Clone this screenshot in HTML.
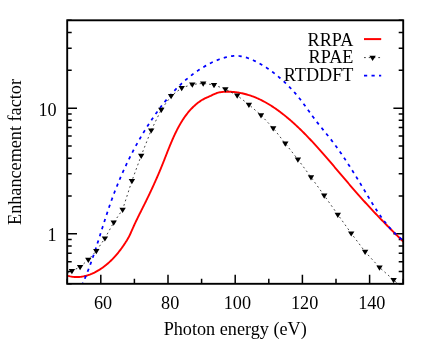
<!DOCTYPE html>
<html><head><meta charset="utf-8"><title>Enhancement factor</title>
<style>html,body{margin:0;padding:0;background:#fff}body{width:436px;height:342px;overflow:hidden;font-family:"Liberation Serif",serif}</style></head>
<body>
<svg width="436" height="342" viewBox="0 0 436 342" style="display:block">
<rect width="436" height="342" fill="#fff"/>
<defs><clipPath id="c"><rect x="67.20" y="20.30" width="336.00" height="263.50"/></clipPath></defs>
<path d="M67.20 283.80V278.80M100.80 283.80V274.80M134.40 283.80V278.80M168.00 283.80V274.80M201.60 283.80V278.80M235.20 283.80V274.80M268.80 283.80V278.80M302.40 283.80V274.80M336.00 283.80V278.80M369.60 283.80V274.80M403.20 283.80V278.80M67.20 283.80H71.70M403.20 283.80H398.70M67.20 271.62H71.70M403.20 271.62H398.70M67.20 261.67H71.70M403.20 261.67H398.70M67.20 253.26H71.70M403.20 253.26H398.70M67.20 245.97H71.70M403.20 245.97H398.70M67.20 239.54H71.70M403.20 239.54H398.70M67.20 233.79H77.00M403.20 233.79H393.40M67.20 195.97H71.70M403.20 195.97H398.70M67.20 173.84H71.70M403.20 173.84H398.70M67.20 158.14H71.70M403.20 158.14H398.70M67.20 145.96H71.70M403.20 145.96H398.70M67.20 136.01H71.70M403.20 136.01H398.70M67.20 127.60H71.70M403.20 127.60H398.70M67.20 120.31H71.70M403.20 120.31H398.70M67.20 113.88H71.70M403.20 113.88H398.70M67.20 108.13H77.00M403.20 108.13H393.40M67.20 70.31H71.70M403.20 70.31H398.70M67.20 48.18H71.70M403.20 48.18H398.70M67.20 32.48H71.70M403.20 32.48H398.70M67.20 20.30H71.70M403.20 20.30H398.70" stroke="#000" stroke-width="1.5" fill="none"/>
<g clip-path="url(#c)">
<path d="M67.16 275.64 L68.18 275.93 L69.21 276.18 L70.23 276.41 L71.25 276.59 L72.26 276.75 L73.28 276.87 L74.28 276.96 L75.29 277.01 L76.29 277.04 L77.29 277.04 L78.28 277.01 L79.27 276.94 L80.26 276.85 L81.24 276.74 L82.22 276.59 L83.19 276.42 L84.15 276.23 L85.11 276.01 L86.07 275.77 L87.02 275.50 L87.96 275.21 L88.90 274.89 L89.83 274.56 L90.75 274.20 L91.67 273.83 L92.58 273.43 L93.48 273.02 L94.38 272.59 L95.27 272.14 L96.15 271.67 L97.02 271.19 L97.89 270.69 L98.75 270.18 L99.59 269.65 L100.44 269.11 L101.27 268.55 L102.09 267.98 L102.90 267.40 L103.71 266.81 L104.51 266.21 L105.30 265.59 L106.08 264.96 L106.85 264.32 L107.61 263.67 L108.37 263.01 L109.12 262.34 L109.86 261.66 L110.59 260.97 L111.31 260.27 L112.02 259.56 L112.73 258.84 L113.43 258.11 L114.12 257.37 L114.80 256.63 L115.48 255.87 L116.14 255.11 L116.80 254.34 L117.45 253.57 L118.09 252.79 L118.73 252.00 L119.36 251.20 L119.98 250.40 L120.59 249.59 L121.19 248.78 L121.79 247.96 L122.38 247.14 L122.96 246.31 L123.54 245.48 L124.10 244.64 L124.66 243.80 L125.22 242.96 L125.76 242.11 L126.30 241.26 L126.83 240.41 L127.34 239.55 L127.84 238.69 L128.33 237.83 L128.80 236.97 L129.25 236.10 L129.68 235.23 L130.10 234.35 L130.50 233.48 L130.90 232.60 L131.28 231.72 L131.67 230.84 L132.06 229.96 L132.45 229.07 L132.84 228.18 L133.24 227.29 L133.64 226.40 L134.04 225.51 L134.45 224.61 L134.86 223.72 L135.28 222.82 L135.71 221.92 L136.14 221.02 L136.57 220.12 L137.00 219.22 L137.44 218.32 L137.89 217.41 L138.33 216.51 L138.78 215.60 L139.23 214.69 L139.68 213.79 L140.14 212.88 L140.59 211.97 L141.05 211.06 L141.50 210.16 L141.96 209.25 L142.42 208.34 L142.87 207.43 L143.33 206.52 L143.79 205.61 L144.24 204.70 L144.69 203.80 L145.14 202.89 L145.59 201.98 L146.03 201.08 L146.48 200.17 L146.92 199.26 L147.36 198.36 L147.80 197.45 L148.24 196.55 L148.67 195.64 L149.11 194.74 L149.54 193.83 L149.97 192.93 L150.40 192.02 L150.82 191.11 L151.25 190.21 L151.67 189.30 L152.09 188.40 L152.51 187.49 L152.92 186.59 L153.34 185.68 L153.75 184.77 L154.16 183.87 L154.57 182.96 L154.98 182.05 L155.38 181.14 L155.79 180.23 L156.19 179.32 L156.59 178.41 L156.99 177.50 L157.38 176.59 L157.78 175.68 L158.17 174.77 L158.56 173.86 L158.95 172.94 L159.34 172.03 L159.72 171.11 L160.11 170.20 L160.49 169.28 L160.87 168.36 L161.25 167.44 L161.62 166.52 L162.00 165.60 L162.37 164.68 L162.74 163.75 L163.11 162.83 L163.47 161.91 L163.84 160.98 L164.21 160.05 L164.57 159.13 L164.93 158.20 L165.30 157.27 L165.66 156.34 L166.02 155.41 L166.39 154.48 L166.75 153.55 L167.12 152.62 L167.48 151.69 L167.85 150.76 L168.22 149.84 L168.59 148.91 L168.96 147.98 L169.34 147.05 L169.71 146.13 L170.09 145.20 L170.47 144.27 L170.86 143.35 L171.25 142.43 L171.64 141.51 L172.03 140.59 L172.43 139.67 L172.83 138.75 L173.24 137.83 L173.65 136.92 L174.07 136.00 L174.49 135.09 L174.92 134.18 L175.35 133.28 L175.79 132.37 L176.23 131.47 L176.68 130.57 L177.13 129.67 L177.60 128.78 L178.06 127.89 L178.54 127.00 L179.02 126.11 L179.51 125.23 L180.01 124.36 L180.52 123.49 L181.03 122.62 L181.55 121.76 L182.08 120.91 L182.62 120.06 L183.17 119.22 L183.72 118.38 L184.29 117.55 L184.86 116.73 L185.45 115.91 L186.05 115.11 L186.65 114.31 L187.27 113.52 L187.89 112.73 L188.53 111.96 L189.18 111.19 L189.84 110.43 L190.51 109.69 L191.19 108.95 L191.89 108.22 L192.60 107.50 L193.31 106.80 L194.04 106.11 L194.79 105.43 L195.54 104.76 L196.30 104.11 L197.08 103.48 L197.86 102.86 L198.66 102.26 L199.46 101.68 L200.27 101.11 L201.10 100.57 L201.93 100.05 L202.77 99.55 L203.62 99.08 L204.48 98.63 L205.35 98.20 L206.22 97.80 L207.11 97.41 L208.00 97.03 L208.89 96.65 L209.80 96.24 L210.71 95.82 L211.63 95.37 L212.55 94.92 L213.48 94.48 L214.42 94.05 L215.36 93.64 L216.31 93.26 L217.26 92.94 L218.22 92.66 L219.18 92.42 L220.15 92.23 L221.12 92.07 L222.09 91.95 L223.07 91.86 L224.05 91.79 L225.04 91.74 L226.03 91.71 L227.02 91.69 L228.01 91.69 L229.01 91.71 L230.00 91.74 L231.00 91.79 L232.00 91.85 L233.00 91.93 L234.00 92.02 L235.00 92.13 L236.00 92.25 L237.00 92.39 L238.00 92.54 L239.00 92.70 L239.99 92.88 L240.99 93.08 L241.98 93.28 L242.97 93.50 L243.95 93.73 L244.93 93.98 L245.91 94.24 L246.89 94.51 L247.86 94.79 L248.82 95.09 L249.78 95.39 L250.74 95.71 L251.69 96.04 L252.63 96.38 L253.57 96.73 L254.50 97.10 L255.43 97.47 L256.35 97.86 L257.27 98.25 L258.18 98.66 L259.09 99.07 L259.99 99.50 L260.89 99.93 L261.78 100.37 L262.67 100.83 L263.55 101.29 L264.43 101.76 L265.30 102.24 L266.17 102.72 L267.03 103.22 L267.89 103.72 L268.75 104.23 L269.60 104.75 L270.45 105.27 L271.29 105.81 L272.13 106.35 L272.96 106.89 L273.79 107.44 L274.62 108.00 L275.44 108.57 L276.26 109.14 L277.07 109.71 L277.88 110.30 L278.69 110.88 L279.49 111.48 L280.29 112.07 L281.08 112.67 L281.88 113.28 L282.67 113.89 L283.45 114.51 L284.23 115.13 L285.01 115.75 L285.79 116.38 L286.56 117.01 L287.33 117.65 L288.09 118.29 L288.86 118.93 L289.62 119.58 L290.37 120.23 L291.13 120.89 L291.88 121.55 L292.62 122.21 L293.37 122.88 L294.11 123.55 L294.85 124.22 L295.59 124.90 L296.32 125.58 L297.05 126.26 L297.78 126.95 L298.50 127.63 L299.23 128.33 L299.95 129.02 L300.67 129.72 L301.38 130.42 L302.09 131.12 L302.81 131.83 L303.51 132.54 L304.22 133.25 L304.92 133.96 L305.63 134.68 L306.33 135.39 L307.02 136.11 L307.72 136.84 L308.41 137.56 L309.10 138.29 L309.79 139.01 L310.48 139.74 L311.17 140.48 L311.85 141.21 L312.54 141.94 L313.22 142.68 L313.89 143.42 L314.57 144.16 L315.25 144.90 L315.92 145.64 L316.60 146.38 L317.27 147.13 L317.94 147.87 L318.60 148.62 L319.27 149.37 L319.94 150.12 L320.60 150.87 L321.27 151.62 L321.93 152.37 L322.59 153.12 L323.25 153.87 L323.91 154.63 L324.56 155.38 L325.22 156.13 L325.88 156.89 L326.53 157.65 L327.19 158.40 L327.84 159.16 L328.49 159.92 L329.14 160.67 L329.79 161.43 L330.45 162.19 L331.10 162.95 L331.74 163.71 L332.39 164.47 L333.04 165.23 L333.69 165.99 L334.34 166.75 L334.98 167.52 L335.63 168.28 L336.28 169.04 L336.92 169.80 L337.57 170.56 L338.22 171.32 L338.86 172.09 L339.51 172.85 L340.15 173.61 L340.80 174.37 L341.44 175.13 L342.09 175.90 L342.74 176.66 L343.38 177.42 L344.03 178.18 L344.68 178.94 L345.32 179.70 L345.97 180.46 L346.62 181.22 L347.27 181.98 L347.92 182.74 L348.57 183.50 L349.21 184.26 L349.87 185.01 L350.52 185.77 L351.17 186.53 L351.82 187.28 L352.47 188.04 L353.13 188.80 L353.78 189.55 L354.44 190.30 L355.10 191.06 L355.75 191.81 L356.41 192.56 L357.07 193.31 L357.73 194.06 L358.39 194.81 L359.06 195.56 L359.72 196.30 L360.39 197.05 L361.05 197.79 L361.72 198.54 L362.39 199.28 L363.05 200.03 L363.72 200.77 L364.39 201.51 L365.07 202.25 L365.74 202.99 L366.41 203.73 L367.09 204.47 L367.76 205.20 L368.44 205.94 L369.12 206.68 L369.80 207.41 L370.48 208.15 L371.16 208.88 L371.84 209.61 L372.52 210.34 L373.20 211.07 L373.89 211.80 L374.57 212.53 L375.26 213.26 L375.94 213.99 L376.63 214.71 L377.32 215.44 L378.01 216.16 L378.70 216.89 L379.39 217.61 L380.08 218.33 L380.78 219.05 L381.47 219.77 L382.17 220.49 L382.86 221.21 L383.56 221.93 L384.26 222.65 L384.96 223.36 L385.66 224.08 L386.36 224.79 L387.06 225.51 L387.76 226.22 L388.46 226.93 L389.17 227.64 L389.87 228.35 L390.58 229.06 L391.28 229.77 L391.99 230.47 L392.70 231.18 L393.41 231.89 L394.11 232.59 L394.83 233.29 L395.54 234.00 L396.25 234.70 L396.96 235.40 L397.67 236.10 L398.39 236.80 L399.10 237.50 L399.82 238.19 L400.54 238.89 L401.25 239.59 L401.97 240.28 L402.69 240.97 L403.41 241.67 L404.13 242.36 L404.85 243.05" stroke="#f00" stroke-width="1.9" fill="none" stroke-linejoin="round"/>
<path d="M63.00 275.50 L71.90 271.00 L80.10 266.90 L88.30 259.70 L96.30 251.00 L104.90 238.30 L113.70 222.50 L122.60 209.60 L131.90 180.90 L141.20 155.60 L151.20 130.30 L161.30 109.60 L171.10 96.00 L181.70 87.90 L192.30 84.40 L203.20 83.40 L214.00 84.90 L225.40 89.20 L237.20 95.50 L248.90 104.60 L261.00 115.20 L273.20 128.10 L285.30 143.50 L297.90 159.40 L311.00 177.10 L324.20 195.50 L337.80 214.60 L351.20 233.30 L365.10 251.70 L379.50 267.40 L393.60 280.00 L408.00 292.50" stroke="#000" stroke-width="0.75" stroke-dasharray="1.8 2.95" fill="none"/>
<path d="M81.80 285.64 L82.21 284.71 L82.63 283.78 L83.03 282.85 L83.44 281.92 L83.84 280.99 L84.23 280.06 L84.62 279.12 L85.01 278.19 L85.40 277.25 L85.78 276.32 L86.16 275.38 L86.53 274.44 L86.90 273.51 L87.27 272.57 L87.63 271.63 L88.00 270.69 L88.36 269.75 L88.71 268.81 L89.06 267.87 L89.42 266.93 L89.76 265.98 L90.11 265.04 L90.45 264.10 L90.79 263.16 L91.13 262.21 L91.46 261.27 L91.80 260.32 L92.13 259.38 L92.46 258.43 L92.78 257.49 L93.11 256.54 L93.43 255.60 L93.75 254.65 L94.07 253.70 L94.39 252.76 L94.71 251.81 L95.02 250.86 L95.33 249.91 L95.65 248.97 L95.96 248.02 L96.27 247.07 L96.57 246.12 L96.88 245.17 L97.19 244.22 L97.49 243.27 L97.79 242.32 L98.10 241.38 L98.40 240.43 L98.70 239.48 L99.00 238.53 L99.30 237.58 L99.60 236.63 L99.90 235.68 L100.20 234.73 L100.50 233.78 L100.80 232.83 L101.10 231.88 L101.40 230.93 L101.70 229.98 L102.00 229.03 L102.30 228.08 L102.60 227.14 L102.90 226.19 L103.20 225.24 L103.50 224.29 L103.80 223.34 L104.10 222.39 L104.40 221.44 L104.71 220.50 L105.01 219.55 L105.32 218.60 L105.62 217.66 L105.93 216.71 L106.24 215.76 L106.55 214.82 L106.86 213.87 L107.17 212.93 L107.48 211.98 L107.80 211.04 L108.11 210.09 L108.43 209.15 L108.75 208.20 L109.07 207.26 L109.40 206.32 L109.72 205.38 L110.05 204.44 L110.38 203.49 L110.71 202.55 L111.04 201.61 L111.38 200.67 L111.72 199.74 L112.06 198.80 L112.40 197.86 L112.75 196.92 L113.09 195.99 L113.44 195.05 L113.80 194.11 L114.15 193.18 L114.51 192.25 L114.87 191.31 L115.23 190.38 L115.59 189.45 L115.96 188.52 L116.33 187.59 L116.70 186.66 L117.07 185.73 L117.45 184.80 L117.82 183.87 L118.20 182.94 L118.59 182.02 L118.97 181.09 L119.36 180.17 L119.75 179.25 L120.14 178.32 L120.53 177.40 L120.93 176.48 L121.33 175.56 L121.73 174.64 L122.13 173.73 L122.54 172.81 L122.95 171.89 L123.36 170.98 L123.77 170.07 L124.19 169.15 L124.61 168.24 L125.03 167.33 L125.45 166.42 L125.88 165.51 L126.30 164.61 L126.73 163.70 L127.17 162.79 L127.60 161.89 L128.04 160.99 L128.48 160.09 L128.92 159.19 L129.37 158.29 L129.81 157.39 L130.26 156.49 L130.71 155.60 L131.17 154.70 L131.63 153.81 L132.09 152.92 L132.55 152.03 L133.01 151.14 L133.48 150.25 L133.95 149.36 L134.42 148.48 L134.89 147.60 L135.37 146.71 L135.85 145.83 L136.33 144.95 L136.82 144.08 L137.30 143.20 L137.79 142.33 L138.29 141.45 L138.78 140.58 L139.28 139.71 L139.78 138.84 L140.28 137.97 L140.78 137.11 L141.29 136.24 L141.80 135.38 L142.31 134.52 L142.83 133.66 L143.34 132.80 L143.86 131.95 L144.38 131.09 L144.91 130.24 L145.44 129.39 L145.97 128.54 L146.50 127.69 L147.03 126.85 L147.57 126.00 L148.11 125.16 L148.66 124.32 L149.20 123.48 L149.75 122.64 L150.30 121.81 L150.85 120.98 L151.41 120.14 L151.97 119.31 L152.53 118.49 L153.09 117.66 L153.66 116.84 L154.23 116.01 L154.80 115.20 L155.37 114.38 L155.95 113.56 L156.53 112.75 L157.11 111.94 L157.70 111.13 L158.28 110.32 L158.88 109.52 L159.47 108.72 L160.07 107.92 L160.67 107.12 L161.27 106.33 L161.88 105.53 L162.49 104.75 L163.10 103.96 L163.72 103.18 L164.34 102.40 L164.96 101.62 L165.59 100.85 L166.22 100.08 L166.86 99.32 L167.49 98.55 L168.14 97.79 L168.78 97.04 L169.43 96.28 L170.08 95.53 L170.74 94.79 L171.40 94.05 L172.07 93.31 L172.74 92.58 L173.41 91.85 L174.08 91.12 L174.77 90.40 L175.45 89.68 L176.14 88.97 L176.83 88.26 L177.53 87.55 L178.23 86.85 L178.94 86.16 L179.65 85.47 L180.37 84.78 L181.09 84.10 L181.81 83.42 L182.54 82.75 L183.28 82.08 L184.02 81.42 L184.76 80.76 L185.51 80.11 L186.26 79.46 L187.02 78.82 L187.79 78.18 L188.55 77.55 L189.33 76.92 L190.11 76.30 L190.89 75.69 L191.68 75.08 L192.47 74.47 L193.27 73.87 L194.08 73.28 L194.89 72.69 L195.71 72.11 L196.53 71.54 L197.35 70.97 L198.19 70.40 L199.02 69.85 L199.87 69.30 L200.72 68.75 L201.57 68.22 L202.43 67.68 L203.30 67.16 L204.17 66.64 L205.05 66.13 L205.94 65.62 L206.83 65.13 L207.72 64.64 L208.63 64.15 L209.53 63.68 L210.44 63.21 L211.36 62.76 L212.28 62.31 L213.21 61.87 L214.14 61.45 L215.07 61.03 L216.01 60.63 L216.95 60.24 L217.90 59.86 L218.84 59.49 L219.79 59.14 L220.75 58.80 L221.70 58.48 L222.66 58.16 L223.62 57.87 L224.58 57.59 L225.55 57.33 L226.51 57.08 L227.48 56.85 L228.45 56.64 L229.41 56.45 L230.38 56.28 L231.35 56.13 L232.32 56.01 L233.29 55.92 L234.26 55.86 L235.23 55.82 L236.19 55.82 L237.16 55.85 L238.12 55.91 L239.09 56.00 L240.05 56.12 L241.01 56.27 L241.97 56.44 L242.93 56.64 L243.88 56.87 L244.83 57.12 L245.78 57.39 L246.73 57.68 L247.67 58.00 L248.61 58.33 L249.54 58.68 L250.47 59.05 L251.40 59.43 L252.32 59.83 L253.24 60.24 L254.15 60.67 L255.06 61.10 L255.96 61.55 L256.86 62.01 L257.75 62.47 L258.64 62.95 L259.52 63.43 L260.40 63.92 L261.27 64.43 L262.14 64.94 L263.00 65.46 L263.86 65.98 L264.71 66.52 L265.55 67.06 L266.40 67.61 L267.23 68.17 L268.06 68.74 L268.89 69.31 L269.71 69.89 L270.52 70.48 L271.34 71.07 L272.14 71.67 L272.94 72.28 L273.74 72.89 L274.53 73.51 L275.31 74.13 L276.09 74.76 L276.87 75.39 L277.64 76.03 L278.41 76.67 L279.17 77.32 L279.92 77.97 L280.68 78.63 L281.42 79.29 L282.16 79.95 L282.90 80.62 L283.63 81.29 L284.36 81.97 L285.08 82.65 L285.80 83.33 L286.51 84.02 L287.22 84.71 L287.92 85.41 L288.62 86.11 L289.32 86.81 L290.00 87.52 L290.69 88.24 L291.37 88.96 L292.04 89.68 L292.71 90.41 L293.38 91.14 L294.04 91.88 L294.70 92.63 L295.35 93.38 L295.99 94.13 L296.64 94.89 L297.28 95.66 L297.91 96.43 L298.54 97.21 L299.16 97.99 L299.78 98.78 L300.40 99.58 L301.01 100.37 L301.62 101.18 L302.23 101.98 L302.84 102.79 L303.44 103.60 L304.04 104.42 L304.64 105.23 L305.23 106.05 L305.83 106.87 L306.42 107.70 L307.01 108.52 L307.61 109.34 L308.20 110.17 L308.79 110.99 L309.38 111.82 L309.97 112.64 L310.56 113.46 L311.16 114.28 L311.75 115.10 L312.34 115.92 L312.94 116.73 L313.54 117.55 L314.14 118.36 L314.74 119.16 L315.34 119.96 L315.95 120.76 L316.56 121.56 L317.17 122.35 L317.79 123.13 L318.41 123.91 L319.03 124.69 L319.65 125.47 L320.27 126.25 L320.89 127.02 L321.52 127.79 L322.14 128.56 L322.77 129.33 L323.39 130.10 L324.02 130.86 L324.64 131.63 L325.27 132.40 L325.89 133.16 L326.52 133.93 L327.14 134.70 L327.76 135.47 L328.37 136.24 L328.99 137.01 L329.60 137.79 L330.22 138.57 L330.82 139.35 L331.43 140.13 L332.03 140.92 L332.63 141.71 L333.23 142.50 L333.83 143.29 L334.42 144.09 L335.01 144.89 L335.60 145.69 L336.19 146.49 L336.77 147.30 L337.35 148.11 L337.93 148.92 L338.51 149.73 L339.08 150.54 L339.66 151.36 L340.23 152.17 L340.80 152.99 L341.36 153.82 L341.93 154.64 L342.49 155.46 L343.05 156.29 L343.61 157.12 L344.17 157.95 L344.72 158.78 L345.28 159.62 L345.83 160.45 L346.38 161.29 L346.93 162.12 L347.48 162.96 L348.02 163.80 L348.57 164.65 L349.11 165.49 L349.65 166.33 L350.19 167.18 L350.73 168.02 L351.27 168.87 L351.80 169.72 L352.34 170.57 L352.87 171.42 L353.40 172.27 L353.94 173.12 L354.47 173.98 L354.99 174.83 L355.52 175.68 L356.05 176.54 L356.58 177.39 L357.10 178.25 L357.63 179.11 L358.15 179.96 L358.67 180.82 L359.19 181.68 L359.71 182.54 L360.23 183.40 L360.75 184.25 L361.27 185.11 L361.79 185.97 L362.31 186.83 L362.83 187.69 L363.34 188.55 L363.86 189.41 L364.38 190.27 L364.89 191.13 L365.41 191.99 L365.92 192.85 L366.44 193.70 L366.95 194.56 L367.47 195.42 L367.98 196.28 L368.50 197.13 L369.01 197.99 L369.53 198.85 L370.04 199.70 L370.56 200.55 L371.08 201.41 L371.60 202.26 L372.12 203.11 L372.64 203.95 L373.17 204.80 L373.69 205.64 L374.22 206.49 L374.75 207.33 L375.28 208.17 L375.82 209.00 L376.36 209.84 L376.90 210.67 L377.45 211.50 L378.00 212.32 L378.55 213.15 L379.11 213.97 L379.67 214.79 L380.23 215.60 L380.80 216.41 L381.38 217.22 L381.95 218.02 L382.54 218.83 L383.13 219.62 L383.72 220.42 L384.32 221.20 L384.93 221.99 L385.54 222.77 L386.16 223.55 L386.78 224.32 L387.41 225.09 L388.05 225.85 L388.69 226.61 L389.34 227.36 L390.00 228.11 L390.66 228.85 L391.34 229.59 L392.02 230.32 L392.70 231.05 L393.40 231.77 L394.11 232.48 L394.82 233.19 L395.54 233.89 L396.27 234.59 L397.01 235.28 L397.76 235.97 L398.52 236.64 L399.29 237.32 L400.06 237.98 L400.85 238.64 L401.65 239.29 L402.46 239.93 L403.28 240.57 L404.11 241.20 L404.95 241.82 L405.80 242.44" stroke="#00f" stroke-width="1.75" stroke-dasharray="3.2 4.3" fill="none"/>
</g>
<path d="M68.70 269.10L75.10 269.10L71.90 274.30ZM76.90 265.00L83.30 265.00L80.10 270.20ZM85.10 257.80L91.50 257.80L88.30 263.00ZM93.10 249.10L99.50 249.10L96.30 254.30ZM101.70 236.40L108.10 236.40L104.90 241.60ZM110.50 220.60L116.90 220.60L113.70 225.80ZM119.40 207.70L125.80 207.70L122.60 212.90ZM128.70 179.00L135.10 179.00L131.90 184.20ZM138.00 153.70L144.40 153.70L141.20 158.90ZM148.00 128.40L154.40 128.40L151.20 133.60ZM158.10 107.70L164.50 107.70L161.30 112.90ZM167.90 94.10L174.30 94.10L171.10 99.30ZM178.50 86.00L184.90 86.00L181.70 91.20ZM189.10 82.50L195.50 82.50L192.30 87.70ZM200.00 81.50L206.40 81.50L203.20 86.70ZM210.80 83.00L217.20 83.00L214.00 88.20ZM222.20 87.30L228.60 87.30L225.40 92.50ZM234.00 93.60L240.40 93.60L237.20 98.80ZM245.70 102.70L252.10 102.70L248.90 107.90ZM257.80 113.30L264.20 113.30L261.00 118.50ZM270.00 126.20L276.40 126.20L273.20 131.40ZM282.10 141.60L288.50 141.60L285.30 146.80ZM294.70 157.50L301.10 157.50L297.90 162.70ZM307.80 175.20L314.20 175.20L311.00 180.40ZM321.00 193.60L327.40 193.60L324.20 198.80ZM334.60 212.70L341.00 212.70L337.80 217.90ZM348.00 231.40L354.40 231.40L351.20 236.60ZM361.90 249.80L368.30 249.80L365.10 255.00ZM376.30 265.50L382.70 265.50L379.50 270.70ZM390.40 278.10L396.80 278.10L393.60 283.30Z" fill="#000"/>
<rect x="67.20" y="20.30" width="336.00" height="263.50" fill="none" stroke="#000" stroke-width="1.9"/>
<g font-family="'Liberation Serif', serif" font-size="18.2" fill="#000" opacity="0.999">
<text x="103.00" y="308.8" text-anchor="middle">60</text>
<text x="170.20" y="308.8" text-anchor="middle">80</text>
<text x="237.40" y="308.8" text-anchor="middle">100</text>
<text x="304.60" y="308.8" text-anchor="middle">120</text>
<text x="371.80" y="308.8" text-anchor="middle">140</text>
<text x="56.7" y="115.58" text-anchor="end">10</text>
<text x="56.7" y="241.24" text-anchor="end">1</text>
<text x="235.2" y="335.3" text-anchor="middle">Photon energy (eV)</text>
<text transform="translate(21 152) rotate(-90)" text-anchor="middle">Enhancement factor</text>
<text x="353.4" y="45.50" text-anchor="end">RRPA</text>
<text x="353.4" y="62.80" text-anchor="end">RPAE</text>
<text x="353.4" y="81.30" text-anchor="end">RTDDFT</text>
</g>
<path d="M364.0 39.1H381.2" stroke="#f00" stroke-width="2"/>
<path d="M364.0 57.6H381.2" stroke="#000" stroke-width="0.75" stroke-dasharray="1.8 2.95"/>
<path d="M369.40 55.70L375.80 55.70L372.60 60.90Z" fill="#000"/>
<path d="M364.0 75.5H381.2" stroke="#00f" stroke-width="1.75" stroke-dasharray="3.2 4.3"/>
</svg>
</body></html>
